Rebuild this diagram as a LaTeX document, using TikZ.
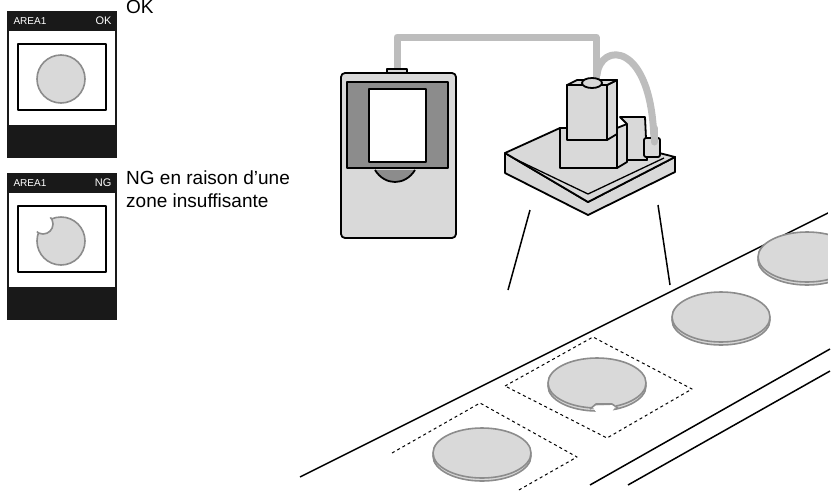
\documentclass[tikz,border=0pt]{standalone}
\usepackage{fontspec}
\setmainfont{Liberation Sans}
\usetikzlibrary{positioning,calc}
\definecolor{lgray}{HTML}{D9D9D9}
\definecolor{mgray}{HTML}{8C8C8C}
\definecolor{cgray}{HTML}{BDBDBD}
\begin{document}
\begin{tikzpicture}[x=1pt, y=-1pt, line join=round,
  screen/.style={fill=black!90},
  disc/.style={draw=mgray, fill=lgray, line width=1.6pt},
  body/.style={draw=black, line width=1.8pt},
  wbox/.style={dashed, line width=1pt},
  cable/.style={cgray, line width=7pt, line cap=round}]
\useasboundingbox (0,0) rectangle (834,490);
% monitor screens
\foreach \dy/\res in {0/OK, 162/NG}{
  \fill[screen] (7,11+\dy) rectangle (117,158+\dy);
  \fill[white] (9,31+\dy) rectangle (115,125+\dy);
  \draw[line width=1.4pt] (18,44+\dy) rectangle (106,110+\dy);
  \node[white, font=\fontsize{10}{11}\selectfont, anchor=west] at (10,21+\dy) {AREA1};
  \node[white, font=\fontsize{11}{12}\selectfont, anchor=east] at (115,21+\dy) {\res};
}
\draw[disc] (61,79) circle (24);
\draw[disc] (61,241) circle (24);
\begin{scope}
  \clip (61,241) circle (26);
  \draw[draw=mgray, fill=white, line width=1.6pt] (43,224) circle (10);
\end{scope}
\node[anchor=north west, font=\fontsize{19}{22}\selectfont, inner sep=0pt] (ok) at (126,0) {OK};
\node[anchor=north west, align=left, font=\fontsize{19}{23}\selectfont, inner sep=0pt] (ng) at (126,171)
  {NG en raison d'une\\zone insuffisante};
% cables
\draw[cable] (397,70) -- (397,37) -- (596,37) -- (596,82);
\draw[cable] (597,75) .. controls (600,42) and (652,40) .. (654,142);
% controller
\draw[body, fill=lgray, rounded corners=4pt] (341,73) rectangle (456,238);
\draw[body, fill=lgray] (387,69) rectangle (407,73);
\draw[body, fill=mgray] (347,82) rectangle (448,168);
\draw[body, fill=white] (369,89) rectangle (426,162);
\draw[body, fill=mgray] (375,170) .. controls (385,186) and (405,186) .. (415,170);
% sensor base
\draw[body, fill=lgray] (505,153) -- (505,173) -- (588,215) -- (675,172) -- (675,157) -- (588,202) -- cycle;
\draw[body, fill=lgray] (505,153) -- (560,128) -- (675,157) -- (588,202) -- cycle;
\draw[line width=1.3pt] (515,159) -- (588,194) -- (664,158);
% sensor head
\draw[body, fill=lgray] (560,128) rectangle (617,168);
\draw[body, fill=lgray] (617,128) -- (627,124) -- (627,162) -- (617,168) -- cycle;
\draw[body, fill=lgray] (620,117) -- (645,117) -- (647,160) -- (627,160) -- (627,124) -- cycle;
\draw[body, fill=lgray] (567,85) rectangle (607,140);
\draw[body, fill=lgray] (607,85) -- (617,80) -- (617,134) -- (607,140) -- cycle;
\draw[body, fill=lgray] (567,85) -- (577,80) -- (617,80) -- (607,85) -- cycle;
\draw[body, fill=lgray] (592,83) ellipse (10 and 5);
\draw[body, fill=lgray, rounded corners=2pt] (644,138) rectangle (660,157);
\draw[cable] (654,128) -- (654,142);
% field of view
\draw[line width=1.5pt] (530,210) -- (508,290);
\draw[line width=1.5pt] (658,205) -- (670,285);
% conveyor
\draw[line width=1.5pt] (300,477) -- (834,210);
\draw[line width=1.5pt] (590,485) -- (830,349);
\draw[line width=1.5pt] (628,485) -- (830,371);
% windows
\draw[wbox] (392,453) -- (480,403) -- (577,457) -- (503,499);
\draw[wbox] (505,386) -- (593,337) -- (692,389) -- (607,438) -- cycle;
% work pieces
\foreach \cx/\cy in {482/453, 597/383, 721/317, 807/257}{
  \draw[disc] (\cx,\cy+3) ellipse (49 and 25);
  \draw[disc] (\cx,\cy) ellipse (49 and 25);
}
\fill[white] (592,406) -- (596,412) -- (612,412) -- (616,405) -- cycle;
\draw[mgray, line width=1.6pt] (590,409) -- (596,404) -- (612,404) -- (618,408);
\fill[white] (828,200) rectangle (834,300);
\end{tikzpicture}
\end{document}
